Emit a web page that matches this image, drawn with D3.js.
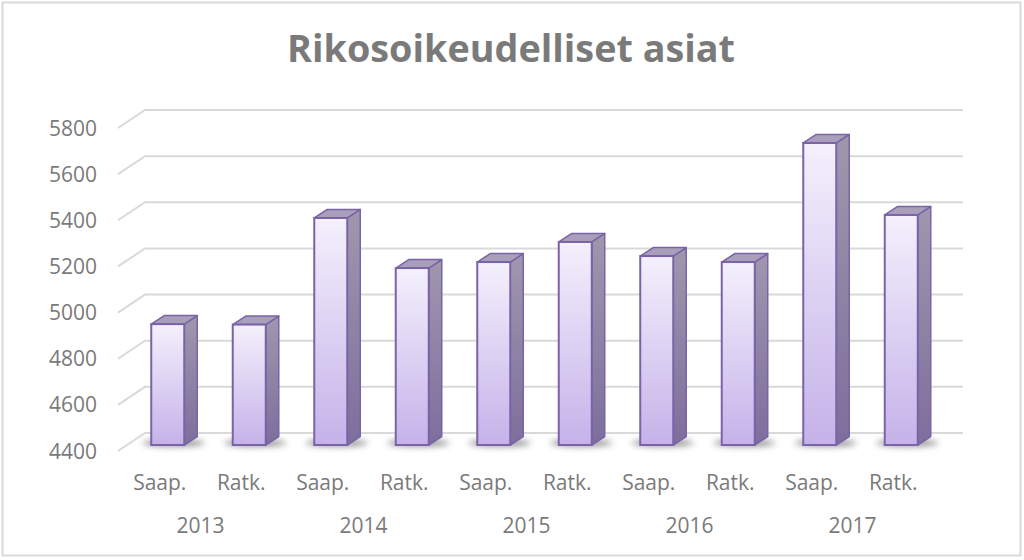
<!DOCTYPE html>
<html>
<head>
<meta charset="utf-8">
<script src="https://cdn.jsdelivr.net/npm/d3@7"></script>
<style>
  html, body { margin: 0; padding: 0; background: #fff; }
  svg { display: block; }
</style>
</head>
<body>
<svg id="chart" width="1024" height="560"></svg>
<script>
const title = "Rikosoikeudelliset asiat";
const years = ["2013", "2014", "2015", "2016", "2017"];
const kinds = ["Saap.", "Ratk."];
const values = [4924, 4922, 5384, 5167, 5193, 5280, 5219, 5193, 5709, 5397];
const yTicks = [4400, 4600, 4800, 5000, 5200, 5400, 5600, 5800];

const categories = [];
years.forEach(y => kinds.forEach(k => categories.push({ year: y, kind: k })));
const data = categories.map((c, i) => ({ ...c, id: i, value: values[i] }));

const svg = d3.select("#chart");
const defs = svg.append("defs");

// perspective offsets
const wallDX = 27, wallDY = 18;     // front edge of floor relative to back wall
const barFrontDY = 12;              // bar front face below back-wall level
const depthDX = 13, depthDY = 8.5;  // bar depth

const y = d3.scaleLinear().domain([4400, 5800]).range([433, 110]);
const x = d3.scaleBand().domain(data.map(d => d.id)).range([127, 942])
  .paddingInner(0.595).paddingOuter(0.2975);
const backX0 = 145, backX1 = 963;

// frame
svg.append("rect").attr("x", 2.5).attr("y", 2.5).attr("width", 1018).attr("height", 553)
  .attr("fill", "#fff").attr("stroke", "#d9d9d9").attr("stroke-width", 2);

// gradients
const gFront = defs.append("linearGradient").attr("id", "gFront").attr("x1", 0).attr("y1", 0).attr("x2", 0).attr("y2", 1);
gFront.append("stop").attr("offset", "0%").attr("stop-color", "#f4f0fc");
gFront.append("stop").attr("offset", "100%").attr("stop-color", "#c5b2e9");
const gSide = defs.append("linearGradient").attr("id", "gSide").attr("x1", 0).attr("y1", 0).attr("x2", 0).attr("y2", 1);
gSide.append("stop").attr("offset", "0%").attr("stop-color", "#a097ae");
gSide.append("stop").attr("offset", "100%").attr("stop-color", "#7d6e9c");
const blur = defs.append("filter").attr("id", "blur").attr("x", "-50%").attr("y", "-100%").attr("width", "200%").attr("height", "300%");
blur.append("feGaussianBlur").attr("stdDeviation", 3);

// gridlines
const grid = svg.append("g").attr("stroke", "#d9d9d9").attr("stroke-width", 2).attr("fill", "none");
yTicks.forEach(t => {
  const yy = y(t);
  grid.append("path").attr("d", `M${backX0 - wallDX},${yy + wallDY}L${backX0},${yy}L${backX1},${yy}`);
});

// tick labels
svg.append("g").selectAll("text").data(yTicks).join("text")
  .attr("x", 97).attr("y", d => y(d) + wallDY).attr("dy", "0.36em")
  .attr("text-anchor", "end")
  .attr("font-family", "'Open Sans', sans-serif").attr("font-size", 21)
  .attr("fill", "#7a7a7a").text(d => d);

// shadows
svg.append("g").selectAll("ellipse").data(data).join("ellipse")
  .attr("cx", d => x(d.id) + x.bandwidth() / 2 + 6)
  .attr("cy", y(4400) + barFrontDY - 2)
  .attr("rx", x.bandwidth() * 0.95).attr("ry", 3.5)
  .attr("fill", "#555").attr("opacity", 0.65).attr("filter", "url(#blur)");

// bars
const bars = svg.append("g").selectAll("g").data(data).join("g");
const stroke = "#7a63a7";
bars.append("path") // side
  .attr("d", d => {
    const x1 = x(d.id) + x.bandwidth(), yt = y(d.value) + barFrontDY, yb = y(4400) + barFrontDY;
    return `M${x1},${yt}L${x1 + depthDX},${yt - depthDY}L${x1 + depthDX},${yb - depthDY}L${x1},${yb}Z`;
  })
  .attr("fill", "url(#gSide)").attr("stroke", stroke).attr("stroke-width", 1.5).attr("stroke-linejoin", "round");
bars.append("path") // top
  .attr("d", d => {
    const x0 = x(d.id), x1 = x0 + x.bandwidth(), yt = y(d.value) + barFrontDY;
    return `M${x0},${yt}L${x0 + depthDX},${yt - depthDY}L${x1 + depthDX},${yt - depthDY}L${x1},${yt}Z`;
  })
  .attr("fill", "#a99fba").attr("stroke", stroke).attr("stroke-width", 1.5).attr("stroke-linejoin", "round");
bars.append("rect") // front
  .attr("x", d => x(d.id)).attr("y", d => y(d.value) + barFrontDY)
  .attr("width", x.bandwidth()).attr("height", d => y(4400) - y(d.value))
  .attr("fill", "url(#gFront)").attr("stroke", stroke).attr("stroke-width", 2);

// category labels
const labelShift = -8;
svg.append("g").selectAll("text").data(data).join("text")
  .attr("x", d => x(d.id) + x.bandwidth() / 2 + labelShift).attr("y", 490)
  .attr("text-anchor", "middle")
  .attr("font-family", "'Open Sans', sans-serif").attr("font-size", 21)
  .attr("fill", "#7a7a7a").text(d => d.kind);

// year labels
svg.append("g").selectAll("text").data(years).join("text")
  .attr("x", yr => {
    const ids = data.filter(d => d.year === yr).map(d => x(d.id) + x.bandwidth() / 2);
    return d3.mean(ids) + labelShift;
  })
  .attr("y", 533).attr("text-anchor", "middle")
  .attr("font-family", "'Open Sans', sans-serif").attr("font-size", 21)
  .attr("fill", "#7a7a7a").text(d => d);

// title
svg.append("text").attr("x", 511).attr("y", 62).attr("text-anchor", "middle")
  .attr("font-family", "'Open Sans', sans-serif").attr("font-weight", "bold").attr("font-size", 37)
  .attr("textLength", 448).attr("lengthAdjust", "spacingAndGlyphs")
  .attr("fill", "#7a7a7a").text(title);
</script>
</body>
</html>
